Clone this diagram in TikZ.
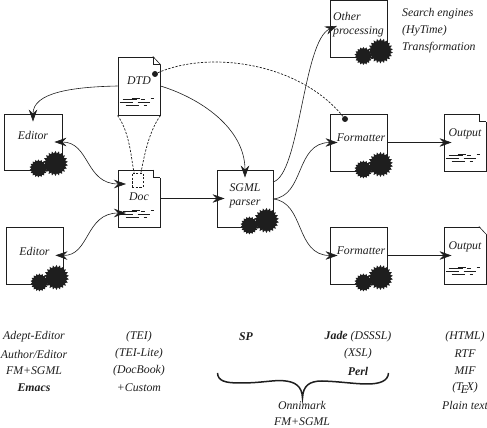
\documentclass[tikz,border=0pt]{standalone}
\usepackage{fontspec}
\setmainfont{Liberation Serif}
\usetikzlibrary{arrows.meta,calc,shapes.geometric}
\definecolor{ink}{HTML}{1E1E1E}
\tikzset{
  box/.style={draw=ink,line width=.9pt,inner sep=0pt,align=left,font=\fontsize{11.8}{14.5}\selectfont\itshape,text=ink},
  editorbox/.style={box,minimum width=57,minimum height=57},
  docbox/.style={box,minimum width=42,minimum height=57},
  refbox/.style={draw=ink,line width=.7pt,dashed,dash pattern=on 2.2pt off 1.5pt,minimum width=11,minimum height=14,inner sep=0pt},
  gearbig/.style={star,star points=22,star point ratio=1.25,fill=ink,inner sep=0pt,minimum size=25},
  gearsmall/.style={star,star points=18,star point ratio=1.25,fill=ink,inner sep=0pt,minimum size=18},
  dotmark/.style={circle,fill=ink,inner sep=0pt,minimum size=6},
  arr/.style={-{Stealth[length=12pt,width=8.5pt,inset=4pt]},line width=.6pt,draw=ink,shorten >=-8pt},
  biarr/.style={{Stealth[length=12pt,width=8.5pt,inset=4pt]}-{Stealth[length=12pt,width=8.5pt,inset=4pt]},line width=.6pt,draw=ink,shorten >=-8pt,shorten <=-8pt},
  dasharr/.style={line width=.7pt,draw=ink,dashed,dash pattern=on 2.2pt off 1.5pt},
  lbl/.style={font=\fontsize{11.8}{15}\selectfont\itshape,text=ink,inner sep=0pt},
  lblb/.style={lbl,font=\fontsize{11.8}{15}\selectfont\itshape\bfseries}
}
% gears at the lower right corner of a box
\newcommand{\gears}[1]{
  \node[gearbig] (#1big) at ($(#1.south east)+(-7,7)$) {};
  \node[gearsmall] (#1small) at ($(#1.south east)+(-24,2)$) {};
}
% page corners
\newcommand{\foldcorner}[1]{
  \fill[white] ($(#1.north east)+(-7.5,.45)$) -- ($(#1.north east)+(.45,.45)$) -- ($(#1.north east)+(.45,-8)$) -- cycle;
  \draw[ink,line width=.6pt] ($(#1.north east)+(-7.5,0)$) -- ($(#1.north east)+(0,-8)$);
}
\newcommand{\notchcorner}[1]{
  \fill[white] ($(#1.north east)+(-7.5,.45)$) rectangle ($(#1.north east)+(.45,-8)$);
  \draw[ink,line width=.9pt] ($(#1.north east)+(-7.5,0)$) -- ($(#1.north east)+(-7.5,-8)$) -- ($(#1.north east)+(0,-8)$);
}
% lines of text on a page
\newcommand{\textlines}[1]{
  \draw[ink,line width=.6pt] ($(#1.south west)+(14,17.5)$) -- +(8,0) ($(#1.south west)+(33,17.5)$) -- +(3,0)
    ($(#1.south west)+(5,16)$) -- +(14,0) ($(#1.south west)+(23,16)$) -- +(4,0)
    ($(#1.south west)+(2,13)$) -- +(13,0) ($(#1.south west)+(20,13)$) -- +(12,0)
    ($(#1.south west)+(8,10)$) -- +(13,0) ($(#1.south west)+(26,10)$) -- +(3,0);
}
\begin{document}
\begin{tikzpicture}[x=1pt,y=1pt]
\useasboundingbox (0,0) rectangle (487,428);
\node[box,minimum width=58,minimum height=56,text depth=14pt] (EditorA) at (33,286) {Editor};
\node[editorbox,text depth=9pt] (EditorB) at (34.5,172.5) {Editor};
\node[docbox,minimum height=58,text depth=10pt] (DTD) at (139,342) {DTD};
\node[docbox,text depth=3pt] (Doc) at (139,229.5) {Doc};
\node[box,minimum width=56,minimum height=57,text depth=8pt] (Parser) at (245,229.5) {SGML\\parser};
\node[editorbox,text depth=11pt] (Other) at (358.5,399) {Other\\processing};
\node[editorbox,text depth=10pt] (FormatterA) at (358.5,285.5) {\hspace*{5pt}Formatter};
\node[editorbox,text depth=10pt] (FormatterB) at (358.5,172.5) {\hspace*{5pt}Formatter};
\node[docbox,text depth=20pt] (OutputA) at (465,285.5) {Output};
\node[docbox,text depth=20pt] (OutputB) at (465,172.5) {Output};
\gears{EditorA} \gears{EditorB} \gears{Parser} \gears{Other} \gears{FormatterA} \gears{FormatterB}
\foldcorner{DTD} \foldcorner{OutputB}
\draw[ink,line width=.6pt] ($(DTD.north east)+(-7.5,0)$) -- ($(DTD.north east)+(-7.5,-8)$) -- ($(DTD.north east)+(0,-8)$);
\notchcorner{Doc} \notchcorner{OutputA}
\textlines{DTD} \textlines{Doc} \textlines{OutputA} \textlines{OutputB}
\node[dotmark] (DTDdot) at (155,354) {};
\node[dotmark] (Fmtdot) at (345,309) {};
\node[refbox] (DocRef) at (137.5,248) {};
\coordinate (DocInA) at (118,244);
\coordinate (DocInB) at (118,215);
\coordinate (ParserOutA) at (273,246);
\coordinate (ParserOutB) at (273,229);
\draw[arr] (DTD.west) .. controls (70,341) and (33,335) .. (EditorA.north);
\draw[biarr] (EditorA.east) .. controls (90,286) and (85,244) .. (DocInA);
\draw[biarr] (EditorB.east) .. controls (90,172) and (85,215) .. (DocInB);
\draw[arr] (Doc.east) -- (Parser.west);
\draw[arr] (DTD.east) .. controls (200,330) and (245,300) .. (Parser.north);
\draw[arr] (ParserOutA) .. controls (300,253) and (303,388) .. (Other.west);
\draw[arr] (ParserOutB) .. controls (305,232) and (295,285.5) .. (FormatterA.west);
\draw[arr] (ParserOutB) .. controls (305,226) and (295,172.5) .. (FormatterB.west);
\draw[arr] (FormatterA.east) -- (OutputA.west);
\draw[arr] (FormatterB.east) -- (OutputB.west);
\draw[dasharr] (DTDdot) .. controls (210,378) and (300,365) .. (Fmtdot);
\draw[dasharr] (DTD.south west) .. controls (130,295) and (131,270) .. (DocRef.115);
\draw[dasharr] (DTD.south east) .. controls (148,295) and (144,270) .. (DocRef.65);
\node[lbl,anchor=west] (SearchTxt) at (402,414) {Search engines};
\node[lbl,anchor=west] (HyTxt) at (402,397) {(HyTime)};
\node[lbl,anchor=west] (TransTxt) at (402,380) {Transformation};
\node[lbl] (AdeptTxt) at (34,91) {Adept-Editor};
\node[lbl] (AuthorTxt) at (34,74) {Author/Editor};
\node[lbl] (FmTxt) at (34,57) {FM+SGML};
\node[lblb] (EmacsTxt) at (34,40) {Emacs};
\node[lbl] (TeiTxt) at (139,91) {(TEI)};
\node[lbl] (LiteTxt) at (139,74) {(TEI-Lite)};
\node[lbl] (BookTxt) at (139,57) {(DocBook)};
\node[lbl] (CustomTxt) at (139,40) {+Custom};
\node[lblb] (SpTxt) at (246,91) {SP};
\node[lbl] (JadeTxt) at (358,91) {\textbf{Jade} (DSSSL)};
\node[lbl] (XslTxt) at (358,74) {(XSL)};
\node[lblb] (PerlTxt) at (358,57) {Perl};
\node[lbl] (HtmlTxt) at (465,91) {(HTML)};
\node[lbl] (RtfTxt) at (465,74) {RTF};
\node[lbl] (MifTxt) at (465,57) {MIF};
\node[lbl] (TexTxt) at (465,40) {(\TeX)};
\node[lbl] (PlainTxt) at (465,23) {Plain text};
\node[lbl] (OmniTxt) at (302,23) {Onnimark};
\node[lbl] (FmsTxt) at (302,6) {FM+SGML};
% brace over the last two names
\coordinate (BraceL) at (217.5,55);
\coordinate (BraceR) at (388.5,55);
\coordinate (BraceTip) at (302.5,30);
\draw[ink,line width=1.5pt] (BraceL) .. controls (218,47) and (225,45) .. (240,45)
  .. controls (262,45) and (272,48) .. (283,47.3)
  .. controls (295,46.5) and (302,42) .. (BraceTip)
  .. controls (303,42) and (309,47) .. (322,47)
  .. controls (340,46.5) and (355,44) .. (367,44)
  .. controls (380,44) and (388,47) .. (BraceR);
\end{tikzpicture}
\end{document}
